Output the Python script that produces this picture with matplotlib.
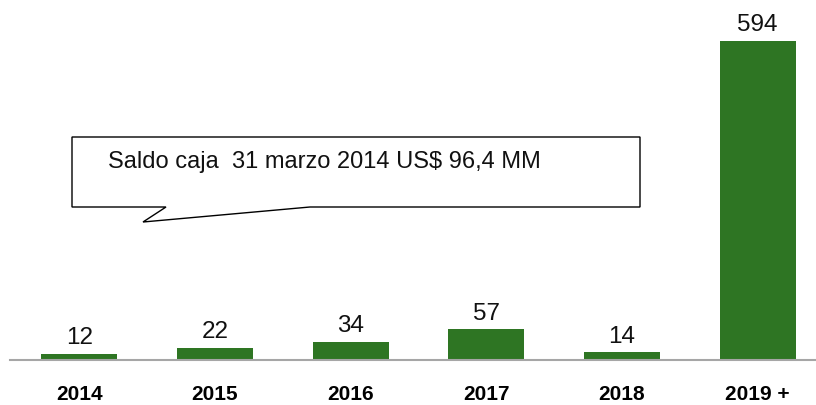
import matplotlib.pyplot as plt
from matplotlib.patches import Polygon

plt.rcParams['font.family'] = ['Liberation Sans', 'DejaVu Sans']

# data
years = ['2014', '2015', '2016', '2017', '2018', '2019 +']
amounts = [12, 22, 34, 57, 14, 594]
note = 'Saldo caja  31 marzo 2014 US$ 96,4 MM'

W, H = 816, 405
fig = plt.figure(figsize=(W / 100, H / 100), dpi=100)
ax = fig.add_axes([10 / W, 45 / H, 806 / W, 360 / H])

x = range(len(years))
bars = ax.bar(x, amounts, width=0.56, color='#2E7523', zorder=2)

for b, v in zip(bars, amounts):
    ax.annotate(str(v), (b.get_x() + b.get_width() / 2, b.get_height()),
                xytext=(0, 3.5), textcoords='offset points',
                ha='center', va='bottom', fontsize=17.5, color='#111111')

ax.set_xlim(-0.51, 5.43)
ax.set_ylim(0, 360 / 0.537)
ax.set_xticks(list(x))
ax.set_xticklabels(years, fontsize=15, fontweight='bold')
ax.tick_params(axis='x', length=0, pad=18)
ax.set_yticks([])
for s in ['top', 'right', 'left']:
    ax.spines[s].set_visible(False)
ax.spines['bottom'].set_color('#A6A6A6')
ax.spines['bottom'].set_linewidth(1.5)

# speech-bubble callout (pixel coords, top-left origin)
pts = [(72, 137), (640, 137), (640, 207), (310, 207), (143, 222),
       (166, 207), (72, 207)]
poly = Polygon([(px / W, 1 - py / H) for px, py in pts], closed=True,
               transform=fig.transFigure, facecolor='white',
               edgecolor='black', linewidth=1.0, zorder=3)
fig.patches.append(poly)
fig.text(108 / W, 1 - 162 / H, note, fontsize=17, va='center', ha='left',
         color='#111111', zorder=4)

fig.savefig('out.png', dpi=100)
